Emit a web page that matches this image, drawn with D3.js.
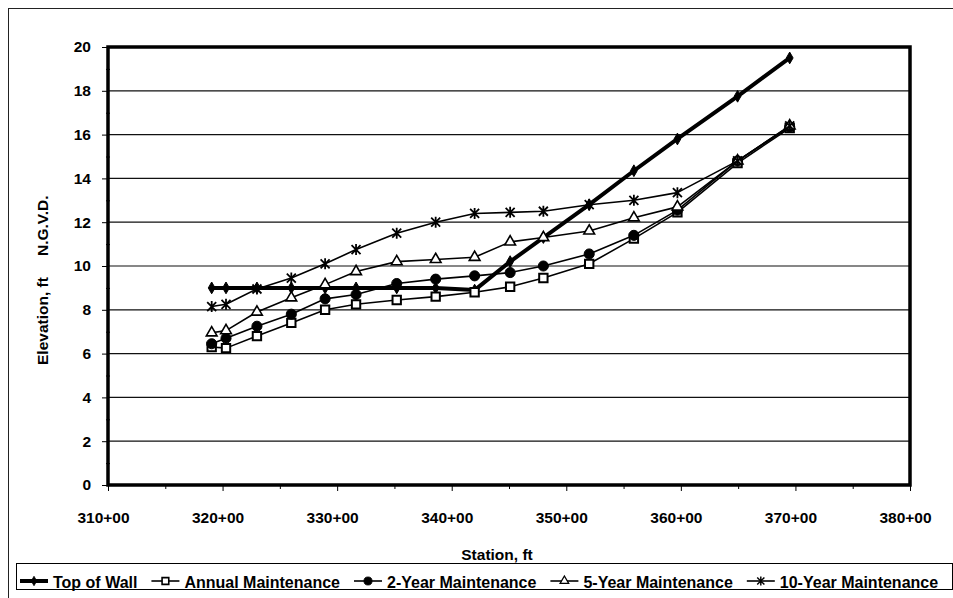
<!DOCTYPE html>
<html>
<head>
<meta charset="utf-8">
<script src="https://cdn.jsdelivr.net/npm/d3@7"></script>
<style>
  body { margin: 0; background: #fff; }
  svg { display: block; font-family: "Liberation Sans", Arial, sans-serif; font-weight: bold; }
</style>
</head>
<body>
<script>
// station (hundreds of ft) for every point
var stations = [319.05, 320.3, 323.0, 326.0, 328.95, 331.65, 335.2, 338.6, 342.0, 345.1, 348.0, 352.0, 355.9, 359.7, 364.95, 369.5];

var topOfWall = [9.0, 9.0, 9.0, 9.0, 9.0, 9.0, 9.0, 9.0, 8.9, 10.2, 11.3, 12.8, 14.35, 15.8, 17.75, 19.5];
var annual    = [6.3, 6.25, 6.8, 7.4, 8.0, 8.25, 8.45, 8.6, 8.8, 9.05, 9.45, 10.1, 11.25, 12.45, 14.7, 16.3];
var twoYear   = [6.45, 6.7, 7.25, 7.8, 8.5, 8.7, 9.2, 9.4, 9.55, 9.7, 10.0, 10.55, 11.4, 12.55, 14.8, 16.35];
var fiveYear  = [6.95, 7.05, 7.9, 8.55, 9.15, 9.75, 10.2, 10.3, 10.4, 11.1, 11.3, 11.6, 12.2, 12.7, 14.8, 16.4];
var tenYear   = [8.15, 8.25, 8.95, 9.45, 10.1, 10.75, 11.5, 12.0, 12.4, 12.45, 12.5, 12.8, 13.0, 13.35, 14.8, 16.4];

var seriesNames = ["Top of Wall", "Annual Maintenance", "2-Year Maintenance", "5-Year Maintenance", "10-Year Maintenance"];
var yTicks = [0, 2, 4, 6, 8, 10, 12, 14, 16, 18, 20];
var xTicks = [310, 320, 330, 340, 350, 360, 370, 380];

var width = 953, height = 598;
var fs = 15.5;
var svg = d3.select("body").append("svg")
    .attr("width", width)
    .attr("height", height);

// outer frame (right/bottom edges fall outside the picture)
svg.append("rect")
    .attr("x", 8.5).attr("y", 8.5)
    .attr("width", 980).attr("height", 620)
    .attr("fill", "none")
    .attr("stroke", "#222")
    .attr("stroke-width", 1);

var x = d3.scaleLinear().domain([310, 380]).range([108, 910]);
var y = d3.scaleLinear().domain([0, 20]).range([485, 47]);

// gridlines
svg.append("g")
    .selectAll("line")
    .data(yTicks.slice(1, -1))
    .enter().append("line")
    .attr("x1", x(310)).attr("x2", x(380))
    .attr("y1", function (d) { return y(d); })
    .attr("y2", function (d) { return y(d); })
    .attr("stroke", "#111")
    .attr("stroke-width", 1.2);

// minor ticks
svg.append("g")
    .attr("transform", "translate(" + x(310) + ",0)")
    .call(d3.axisLeft(y).tickValues(d3.range(1, 20, 2)).tickSize(4).tickFormat(""))
    .call(function (g) { g.select(".domain").remove(); g.selectAll("line").attr("transform", "translate(2,0)"); });

svg.append("g")
    .attr("transform", "translate(0," + y(0) + ")")
    .call(d3.axisBottom(x).tickValues(d3.range(315, 380, 10)).tickSize(4).tickFormat(""))
    .call(function (g) { g.select(".domain").remove(); });

// y axis
var yAxis = svg.append("g")
    .attr("transform", "translate(" + x(310) + ",0)")
    .call(d3.axisLeft(y).tickValues(yTicks).tickSize(6).tickPadding(11).tickFormat(d3.format("d")));
yAxis.select(".domain").remove();
yAxis.selectAll("text")
    .attr("font-family", "Liberation Sans, Arial, sans-serif")
    .attr("font-weight", "bold")
    .attr("font-size", fs)
    .attr("fill", "#000");

// x axis
var xAxis = svg.append("g")
    .attr("transform", "translate(0," + y(0) + ")")
    .call(d3.axisBottom(x).tickValues(xTicks).tickSize(6).tickPadding(21).tickFormat(function (d) { return d + "+00"; }));
xAxis.select(".domain").remove();
xAxis.selectAll("text")
    .attr("font-family", "Liberation Sans, Arial, sans-serif")
    .attr("font-weight", "bold")
    .attr("font-size", fs)
    .attr("fill", "#000")
    .attr("dx", -5);

// plot border
svg.append("rect")
    .attr("x", x(310)).attr("y", y(20))
    .attr("width", x(380) - x(310))
    .attr("height", y(0) - y(20))
    .attr("fill", "none")
    .attr("stroke", "#000")
    .attr("stroke-width", 3.5);

// axis titles
svg.append("text")
    .attr("x", 497).attr("y", 560)
    .attr("text-anchor", "middle")
    .attr("font-size", fs)
    .text("Station, ft");

svg.append("text")
    .attr("transform", "translate(48,365) rotate(-90)")
    .attr("font-size", fs)
    .text("Elevation, ft");

svg.append("text")
    .attr("transform", "translate(48,256) rotate(-90)")
    .attr("font-size", fs)
    .text("N.G.V.D.");

// series
var star = "M-4.5,-4.5L4.5,4.5M-4.5,4.5L4.5,-4.5M0,-5.5L0,5.5";
var series = [
    { name: seriesNames[0], values: topOfWall, width: 4, marker: d3.symbol().type(d3.symbolDiamond).size(40)(), fill: "#000", mstroke: 1 },
    { name: seriesNames[1], values: annual, width: 1.6, marker: d3.symbol().type(d3.symbolSquare).size(70)(), fill: "#fff", mstroke: 2 },
    { name: seriesNames[2], values: twoYear, width: 1.6, marker: d3.symbol().type(d3.symbolCircle).size(80)(), fill: "#000", mstroke: 1 },
    { name: seriesNames[3], values: fiveYear, width: 1.6, marker: d3.symbol().type(d3.symbolTriangle).size(50)(), fill: "#fff", mstroke: 1.6 },
    { name: seriesNames[4], values: tenYear, width: 1.6, marker: star, fill: "none", mstroke: 1.8 }
];

var line = d3.line()
    .x(function (d) { return x(d[0]); })
    .y(function (d) { return y(d[1]); });

series.forEach(function (s) {
    var pts = stations.map(function (st, i) { return [st, s.values[i]]; });
    var g = svg.append("g");
    g.append("path")
        .attr("d", line(pts))
        .attr("fill", "none")
        .attr("stroke", "#000")
        .attr("stroke-width", s.width)
        .attr("stroke-linejoin", "round");
    g.selectAll("path.m")
        .data(pts)
        .enter().append("path")
        .attr("class", "m")
        .attr("d", s.marker)
        .attr("transform", function (d) { return "translate(" + x(d[0]) + "," + y(d[1]) + ")"; })
        .attr("fill", s.fill)
        .attr("stroke", "#000")
        .attr("stroke-width", s.mstroke);
});

// legend
var legend = svg.append("g");
legend.append("rect")
    .attr("x", 16.5).attr("y", 563.5)
    .attr("width", 936).attr("height", 26)
    .attr("fill", "#fff")
    .attr("stroke", "#000")
    .attr("stroke-width", 1);

var lx = 20, ly = 581;
series.forEach(function (s) {
    legend.append("line")
        .attr("x1", lx).attr("x2", lx + 28)
        .attr("y1", ly).attr("y2", ly)
        .attr("stroke", "#000")
        .attr("stroke-width", s.width);
    legend.append("path")
        .attr("d", s.marker)
        .attr("transform", "translate(" + (lx + 14) + "," + ly + ") scale(0.8)")
        .attr("fill", s.fill)
        .attr("stroke", "#000")
        .attr("stroke-width", s.mstroke);
    var t = legend.append("text")
        .attr("x", lx + 33).attr("y", 587.5)
        .attr("font-size", 16)
        .text(s.name);
    lx += 33 + t.node().getComputedTextLength() + 14;
});
</script>
</body>
</html>
